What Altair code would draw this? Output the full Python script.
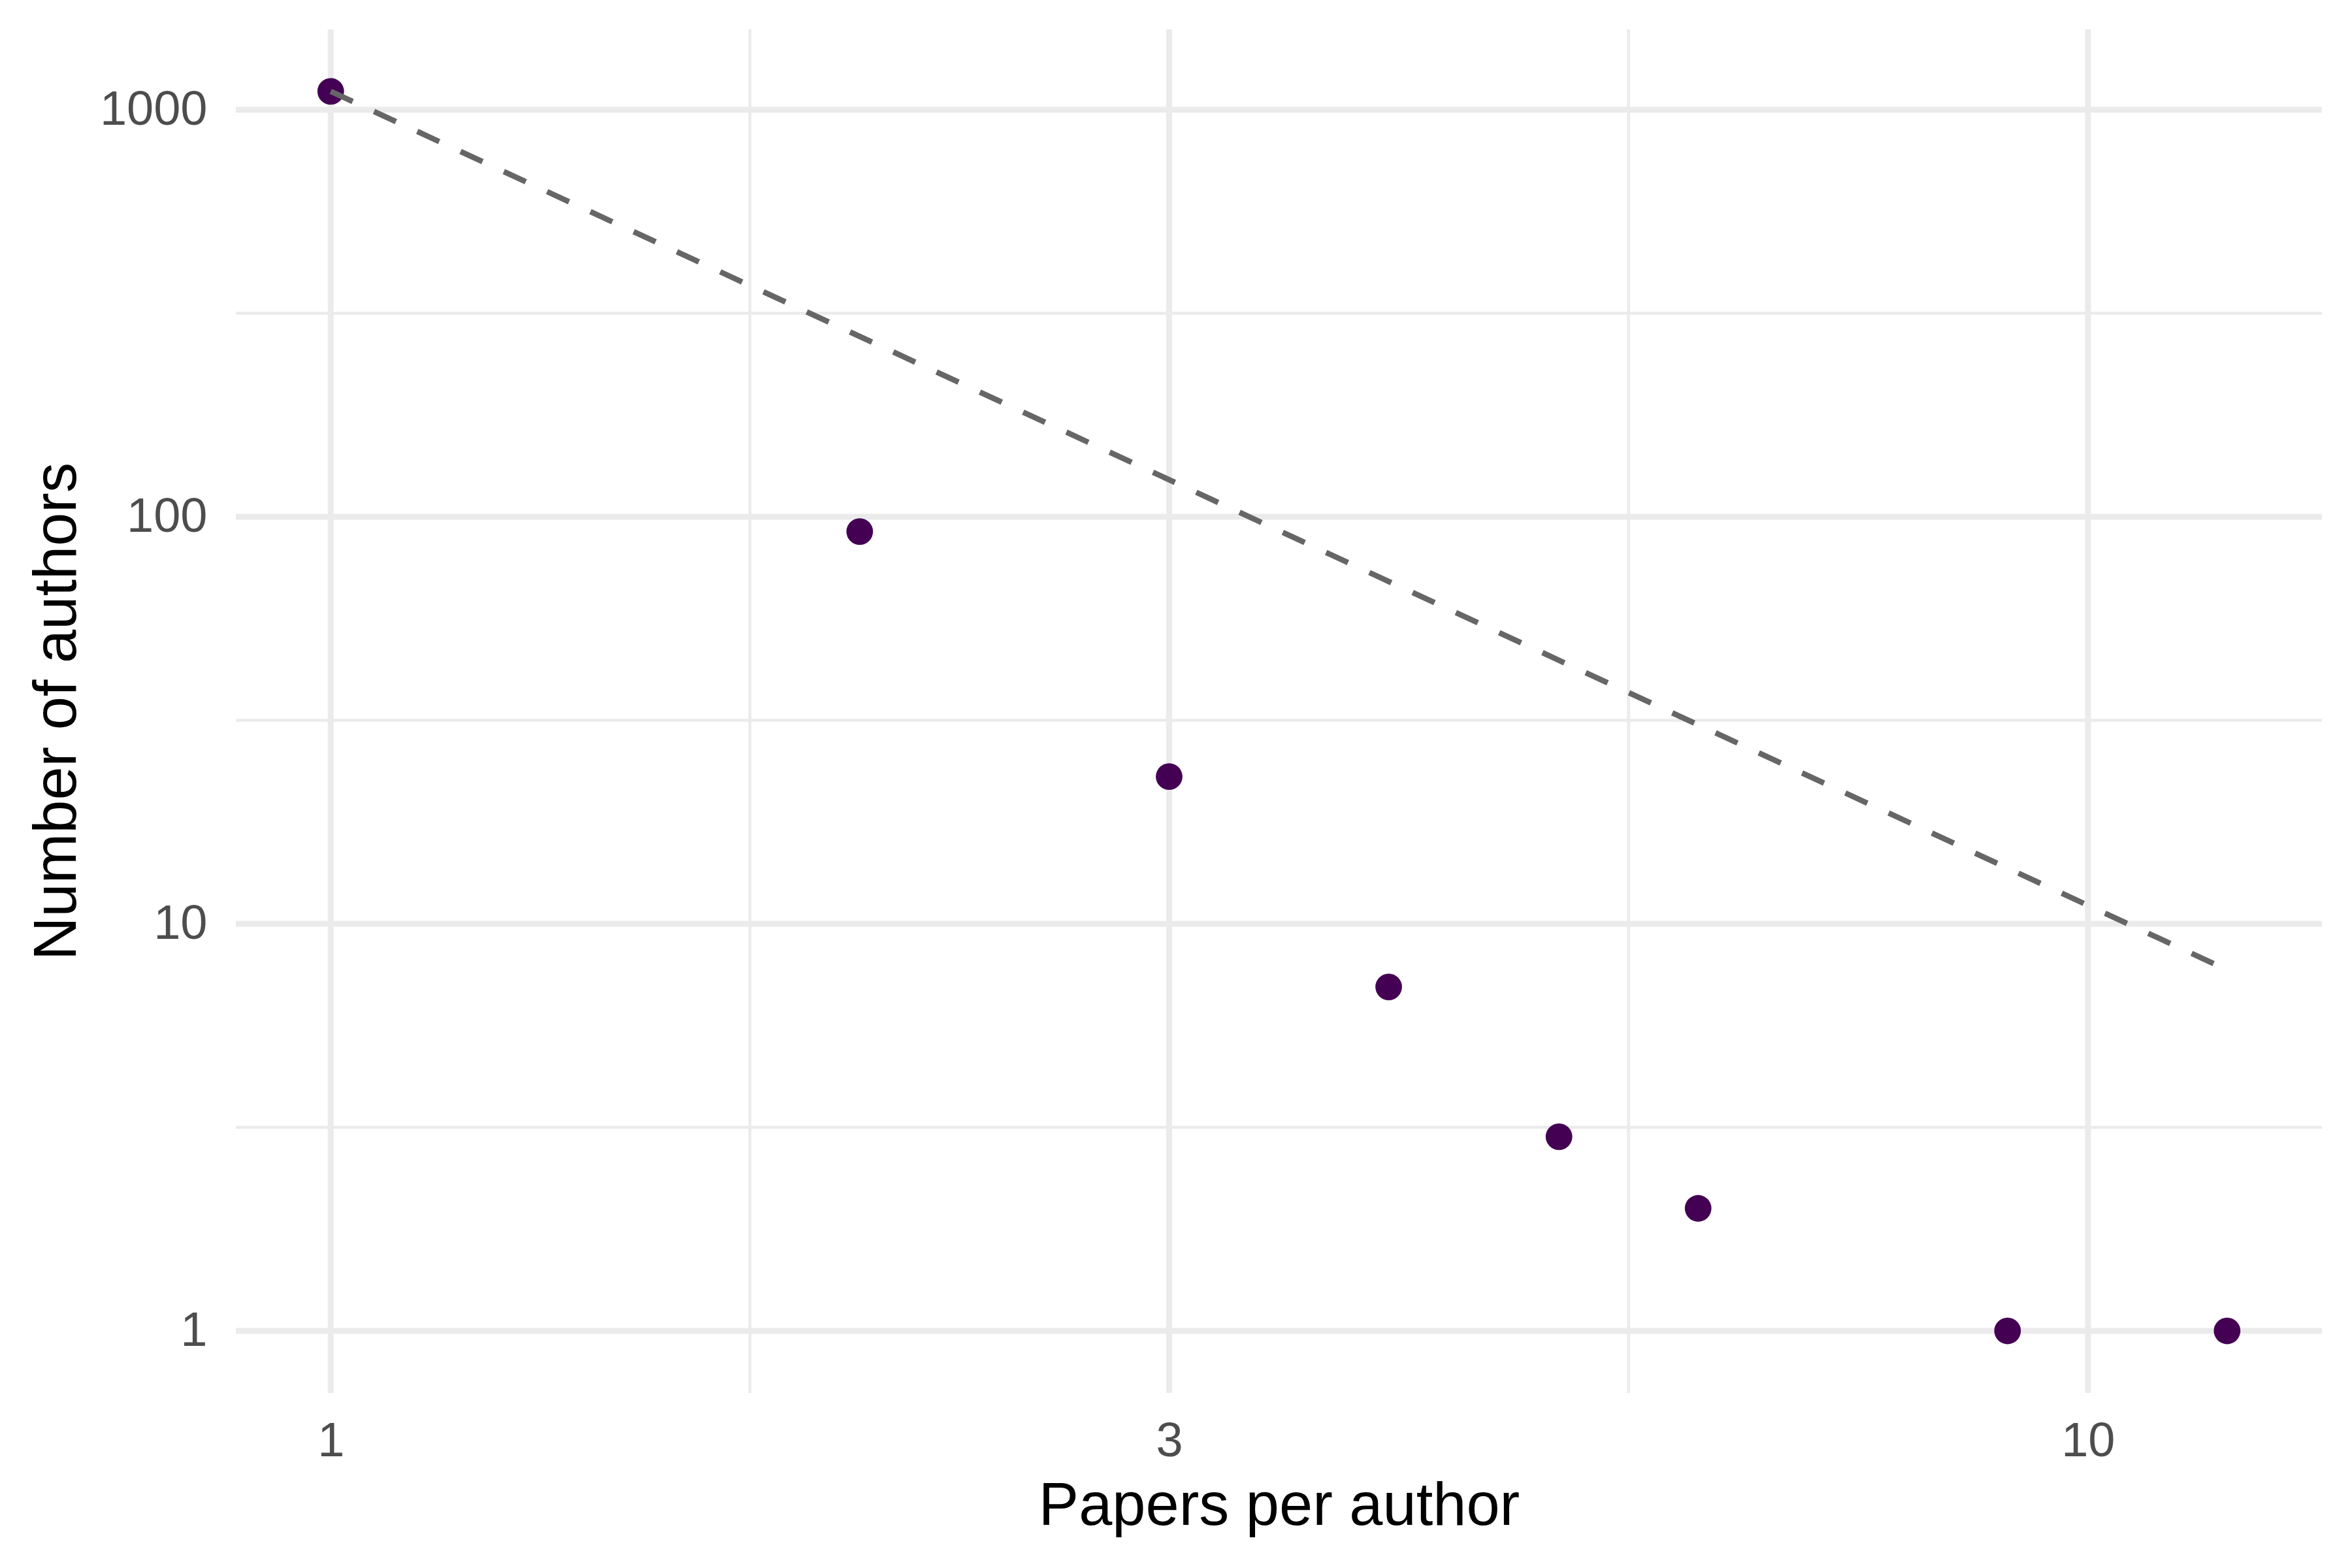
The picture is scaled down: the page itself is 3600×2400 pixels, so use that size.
import altair as alt
import pandas as pd

# Data
papers = [1, 2, 3, 4, 5, 6, 9, 12]
authors = [1110, 92, 23, 7, 3, 2, 1, 1]

# Lotka-type reference line (straight on log-log), endpoints
fit_x = [1, 12]
fit_y = [1110, 7.71]

# Axis breaks
x_major = [1, 3, 10]
x_minor = [1.732, 5.477]
y_major = [1, 10, 100, 1000]
y_minor = [3.162, 31.62, 316.2]

x_domain = [0.8831, 13.588]
y_domain = [0.7040, 1576]

FONT = "Liberation Sans"

xs = alt.Scale(type="log", domain=x_domain, nice=False)
ys = alt.Scale(type="log", domain=y_domain, nice=False)

x_axis = alt.Axis(
    title="Papers per author", values=x_major, format="d",
    grid=False, domain=False, ticks=False, tickSize=0,
    labelFont=FONT, labelFontSize=74, labelColor="#4D4D4D",
    labelBaseline="alphabetic", labelPadding=96,
    titleFont=FONT, titleFontSize=92, titleColor="#000000",
    titleFontWeight="normal", titleBaseline="alphabetic", titleY=201,
)
y_axis = alt.Axis(
    title="Number of authors", values=y_major, format="d",
    grid=False, domain=False, ticks=False, tickSize=0,
    labelFont=FONT, labelFontSize=74, labelColor="#4D4D4D",
    labelPadding=44,
    titleFont=FONT, titleFontSize=92, titleColor="#000000",
    titleFontWeight="normal", titleBaseline="alphabetic", titleX=-246,
    titleY=1043.5, titleAngle=270,
)

X = lambda: alt.X("x:Q", scale=xs, axis=x_axis)
Y = lambda: alt.Y("y:Q", scale=ys, axis=y_axis)

grid_col = "#EBEBEB"

xminor = alt.Chart(pd.DataFrame({"x": x_minor})).mark_rule(
    color=grid_col, strokeWidth=4.5).encode(x=X())
yminor = alt.Chart(pd.DataFrame({"y": y_minor})).mark_rule(
    color=grid_col, strokeWidth=4.5).encode(y=Y())
xmajor = alt.Chart(pd.DataFrame({"x": x_major})).mark_rule(
    color=grid_col, strokeWidth=9).encode(x=X())
ymajor = alt.Chart(pd.DataFrame({"y": y_major})).mark_rule(
    color=grid_col, strokeWidth=9).encode(y=Y())

points = alt.Chart(pd.DataFrame({"x": papers, "y": authors})).mark_circle(
    color="#440154", opacity=1, size=1662).encode(x=X(), y=Y())

line = alt.Chart(pd.DataFrame({"x": fit_x, "y": fit_y})).mark_line(
    color="#666666", strokeWidth=8.5, strokeDash=[37, 36]).encode(x=X(), y=Y())

chart = alt.layer(xminor, yminor, xmajor, ymajor, points, line).properties(
    width=3193, height=2087,
    autosize=alt.AutoSizeParams(type="none"),
    padding={"left": 353, "top": 37, "right": 38, "bottom": 260},
    background="white",
).configure_view(strokeWidth=0)

chart.save("out.html", embed_options={"renderer": "svg", "actions": False})
